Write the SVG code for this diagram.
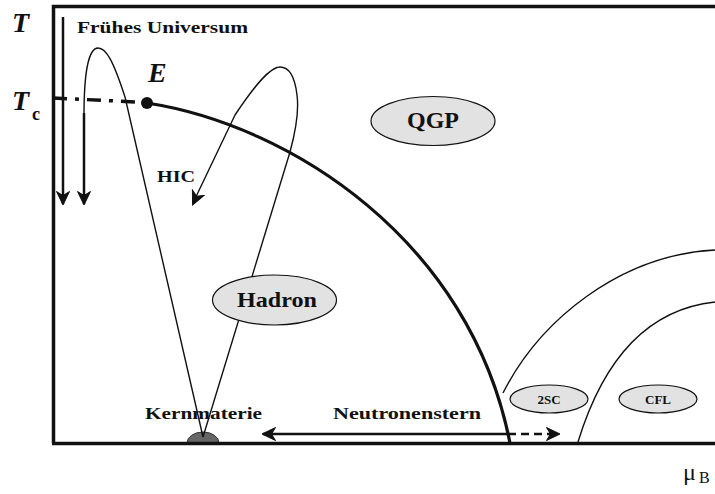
<svg xmlns="http://www.w3.org/2000/svg" width="715" height="494" viewBox="0 0 715 494">
<style>
text{font-family:"Liberation Serif","Times New Roman","DejaVu Serif",serif;fill:#111}
.lbl{font-weight:bold}
.math{font-weight:bold;font-style:italic}
.phase{fill:#e2e2e2;stroke:#111;stroke-width:1.2}
.thin{fill:none;stroke:#111;stroke-width:1.4}
.arr{fill:none;stroke:#111;stroke-width:2.5}
</style>
<defs>
<marker id="ah" markerWidth="18" markerHeight="16" refX="13" refY="7" orient="auto" markerUnits="userSpaceOnUse">
<path d="M0.5,0.5 L14,7 L0.5,13.5 L4.5,7 Z" fill="#111" stroke="#111" stroke-width="1" stroke-linejoin="miter"/>
</marker>
</defs>

<g id="background"><rect width="715" height="494" fill="#fff"/></g>

<g id="kernmaterie-dot"><path d="M187,443 A16,11 0 0 1 219,443 Z" fill="#666" stroke="#333" stroke-width="1"/></g>

<g id="frame">
<path d="M53.5,443.5 L53.5,6.5 L715,6.5" fill="none" stroke="#111" stroke-width="3.5"/>
<path d="M52,443.5 L715,443.5" fill="none" stroke="#111" stroke-width="3.5"/>
</g>

<g id="connectors">
<path id="fruehes-arrow1" class="arr" d="M63,17 L63,204" marker-end="url(#ah)"/>
<path id="fruehes-loop" class="thin" d="M84,115 C84,62 91,48 98,48 C106,48 113,60 125,97 L203,437"/>
<path id="fruehes-arrow2" class="arr" d="M84,113 L84,204" marker-end="url(#ah)"/>
<path id="hic-loop" class="thin" d="M203,437 L290,152 C296,130 299,110 297,95 C295,78 290,67 280,67 C270,67 255,85 235,115 L193,203" stroke-width="2"/>
<path id="hic-head" d="M200,189 L193,204" fill="none" stroke="none" marker-end="url(#ah)"/>
<path id="crossover" d="M53,98 L147,102.5" fill="none" stroke="#111" stroke-width="3.5" stroke-dasharray="14,8,4,8"/>
<path id="phase-boundary" d="M147,103 C290,125 470,240 510,443" fill="none" stroke="#111" stroke-width="3.2"/>
<circle id="critical-point" cx="147" cy="103" r="6" fill="#111"/>
<path id="csc-outer" class="thin" d="M503,393 C540,320 620,255 715,250" stroke-width="1.2"/>
<path id="csc-inner" class="thin" d="M578,442 C600,370 640,310 715,302" stroke-width="1.2"/>
<path id="ns-solid" class="arr" d="M508,434 L263,434" marker-end="url(#ah)"/>
<path id="ns-dashed" class="arr" d="M508,434 L559,434" stroke-dasharray="8,5" marker-end="url(#ah)"/>
</g>

<g id="axis-labels">
<text class="math" x="12" y="32" font-size="28">T</text>
<text class="math" x="12" y="110" font-size="28">T</text>
<text class="lbl" x="32" y="120" font-size="18">c</text>
<text x="683" y="480" font-size="24">μ</text>
<text x="699" y="483" font-size="16">B</text>
</g>

<g id="E-label"><text class="math" x="148" y="82" font-size="28">E</text></g>
<g id="fruehes-label"><text class="lbl" x="77" y="33" font-size="17" textLength="171" lengthAdjust="spacingAndGlyphs">Frühes Universum</text></g>
<g id="hic-label"><text class="lbl" x="157" y="182" font-size="17" textLength="38" lengthAdjust="spacingAndGlyphs">HIC</text></g>

<g id="qgp"><ellipse class="phase" cx="433" cy="121" rx="62" ry="24.5"/><text class="lbl" x="433" y="128" font-size="23" text-anchor="middle" textLength="52" lengthAdjust="spacingAndGlyphs">QGP</text></g>
<g id="hadron"><ellipse class="phase" cx="274.5" cy="300" rx="62" ry="25"/><text class="lbl" x="277" y="307" font-size="22" text-anchor="middle" textLength="80" lengthAdjust="spacingAndGlyphs">Hadron</text></g>
<g id="twosc"><ellipse class="phase" cx="549" cy="399" rx="39" ry="14"/><text class="lbl" x="549" y="404" font-size="13" text-anchor="middle">2SC</text></g>
<g id="cfl"><ellipse class="phase" cx="658" cy="399" rx="39" ry="14"/><text class="lbl" x="658" y="404" font-size="13" text-anchor="middle">CFL</text></g>

<g id="kernmaterie-label"><text class="lbl" x="145" y="419" font-size="17" textLength="117" lengthAdjust="spacingAndGlyphs">Kernmaterie</text></g>
<g id="neutronenstern-label"><text class="lbl" x="333" y="419" font-size="17" textLength="148" lengthAdjust="spacingAndGlyphs">Neutronenstern</text></g>
</svg>
